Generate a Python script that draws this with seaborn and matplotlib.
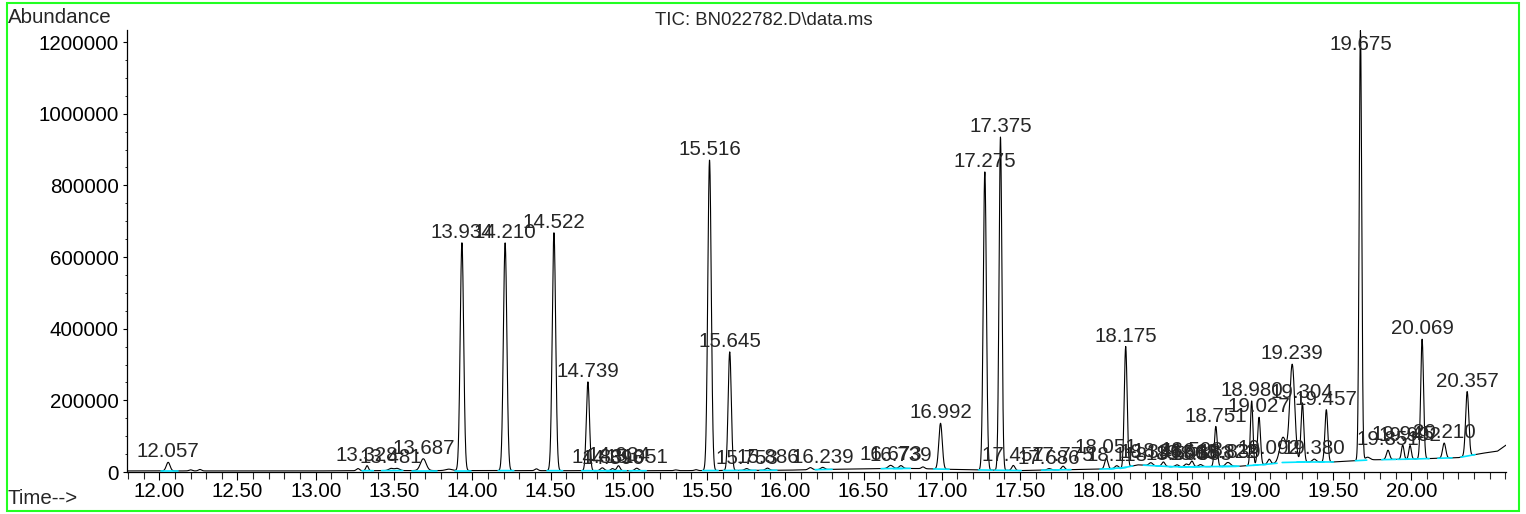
import numpy as np
import pandas as pd
import matplotlib.pyplot as plt
import seaborn as sns
from matplotlib.patches import Rectangle
from matplotlib.ticker import MultipleLocator, FixedLocator, FuncFormatter

# Labelled peaks: retention time (min), apex height above baseline, width (sigma, min)
peak_rt = [12.057, 13.328, 13.481, 13.687, 13.934, 14.210, 14.522, 14.739,
           14.831, 14.896, 14.934, 15.051, 15.516, 15.645, 15.753, 15.886,
           16.239, 16.673, 16.739, 16.992, 17.275, 17.375, 17.457, 17.686,
           17.775, 18.051, 18.118, 18.175, 18.336, 18.416, 18.503, 18.563,
           18.598, 18.653, 18.751, 18.822, 18.839, 18.980, 19.027, 19.092,
           19.239, 19.304, 19.380, 19.457, 19.675, 19.851, 19.945, 19.992,
           20.069, 20.210, 20.357]
peak_height = [24000, 14000, 6000, 33000, 636000, 636000, 664000, 248000,
               8000, 6000, 14000, 7000, 867000, 331000, 5000, 6000,
               6000, 9000, 8000, 128000, 832000, 930000, 14000, 4000,
               10000, 30000, 8000, 338000, 8000, 12000, 6000, 8000,
               16000, 6000, 112000, 8000, 6000, 180000, 133000, 14000,
               272000, 165000, 8000, 146000, 1200000, 26000, 40000, 38000,
               334000, 42000, 180000]
peak_width = [0.012, 0.008, 0.015, 0.018, 0.011, 0.011, 0.011, 0.010,
              0.012, 0.010, 0.010, 0.012, 0.011, 0.010, 0.012, 0.012,
              0.012, 0.015, 0.012, 0.011, 0.010, 0.009, 0.010, 0.012,
              0.010, 0.010, 0.012, 0.009, 0.012, 0.010, 0.012, 0.012,
              0.010, 0.012, 0.009, 0.012, 0.012, 0.008, 0.009, 0.010,
              0.016, 0.009, 0.012, 0.009, 0.008, 0.010, 0.008, 0.008,
              0.009, 0.010, 0.010]

# Small unlabelled bumps and shoulders
bump_rt = [12.20, 12.26, 13.27, 13.52, 13.85, 14.41, 15.30, 15.43, 16.16,
           16.88, 19.18, 19.72]
bump_height = [3000, 4000, 6000, 6000, 4000, 5000, 2000, 2500, 6000,
               5000, 70000, 8000]
bump_width = [0.010, 0.010, 0.010, 0.015, 0.020, 0.010, 0.010, 0.010, 0.012,
              0.010, 0.020, 0.015]

# Baseline drift
base_rt = [11.794, 12.5, 13.0, 13.5, 14.0, 15.0, 15.5, 16.0, 16.5, 16.8,
           17.2, 17.5, 18.0, 18.15, 18.25, 18.5, 18.9, 19.1, 19.2, 19.5,
           19.75, 20.0, 20.3, 20.45, 20.55, 20.605]
base_level = [3000, 3000, 3000, 4000, 4000, 3500, 4000, 5000, 9000, 10000,
              6000, 4000, 8000, 10000, 20000, 14000, 16000, 22000, 28000, 28000,
              34000, 36000, 40000, 52000, 58000, 75000]

# labelled time ticks (the 20.50 tick carries no label in the original)
time_ticks = [12.0, 12.5, 13.0, 13.5, 14.0, 14.5, 15.0, 15.5, 16.0, 16.5,
              17.0, 17.5, 18.0, 18.5, 19.0, 19.5, 20.0]

title = 'TIC: BN022782.D\\data.ms'

sns.set_theme(style='ticks')
plt.rcParams['font.family'] = ['Liberation Sans', 'DejaVu Sans']

time = np.linspace(11.794, 20.605, 9000)
baseline = np.interp(time, base_rt, base_level)
signal = baseline.copy()
for rt, h, w in zip(peak_rt + bump_rt, peak_height + bump_height, peak_width + bump_width):
    signal += h * np.exp(-0.5 * ((time - rt) / w) ** 2)
df = pd.DataFrame({'time': time, 'abundance': signal})

W, H = 1526, 514
fig = plt.figure(figsize=(W / 100, H / 100), dpi=100)
ax = fig.add_axes([127 / W, 1 - 472 / H, (1506 - 127) / W, (472 - 30) / H])

sns.lineplot(data=df, x='time', y='abundance', color='black', linewidth=0.8,
             estimator=None, ax=ax)

# integration baselines
for rt, w in zip(peak_rt, peak_width):
    x0, x1 = rt - 4 * w, rt + 5 * w
    ax.plot([x0, x1], np.interp([x0, x1], base_rt, base_level),
            color='#00e5ff', linewidth=1.2, zorder=3)

ymax = 1233600
for rt in peak_rt:
    near = (time > rt - 0.004) & (time < rt + 0.004)
    top = min(signal[near].max(), 1165000)
    ax.annotate(f'{rt:.3f}', (rt, top), xytext=(0, 3.5), textcoords='offset points',
                ha='center', va='baseline', fontsize=14.8, annotation_clip=False)

ax.set_xlim(11.794, 20.605)
ax.set_ylim(0, ymax)
ax.set_xlabel('')
ax.set_ylabel('')
ax.xaxis.set_major_locator(FixedLocator(time_ticks))
ax.xaxis.set_minor_locator(MultipleLocator(0.1))
ax.xaxis.set_major_formatter(FuncFormatter(lambda v, p: f'{v:.2f}'))
ax.yaxis.set_major_locator(MultipleLocator(200000))
ax.yaxis.set_minor_locator(MultipleLocator(50000))
ax.yaxis.set_major_formatter(FuncFormatter(lambda v, p: f'{int(round(v))}'))
sns.despine(ax=ax)
for s in ['left', 'bottom']:
    ax.spines[s].set_linewidth(0.9)
    ax.spines[s].set_color('black')
ax.tick_params(axis='x', which='major', length=5.8, width=0.8, pad=1.5,
               labelsize=14.8, colors='black')
ax.tick_params(axis='x', which='minor', length=5.2, width=0.8)
ax.tick_params(axis='y', which='major', length=3, width=0.8, pad=3,
               labelsize=14.8, colors='black')
ax.tick_params(axis='y', which='minor', length=1.8, width=0.7)

fig.text(8 / W, 1 - 22.7 / H, 'Abundance', fontsize=14.8, va='baseline')
fig.text(8 / W, 1 - 504 / H, 'Time-->', fontsize=14.8, va='baseline')
fig.text(764 / W, 1 - 25 / H, title, fontsize=13.4, ha='center', va='baseline')

fig.patches.append(Rectangle((7 / W, 1 - 511 / H), (1519 - 7) / W, (511 - 3) / H,
                             transform=fig.transFigure, fill=False,
                             edgecolor='#22ff22', linewidth=1.5))

fig.savefig('out.png', dpi=100)
